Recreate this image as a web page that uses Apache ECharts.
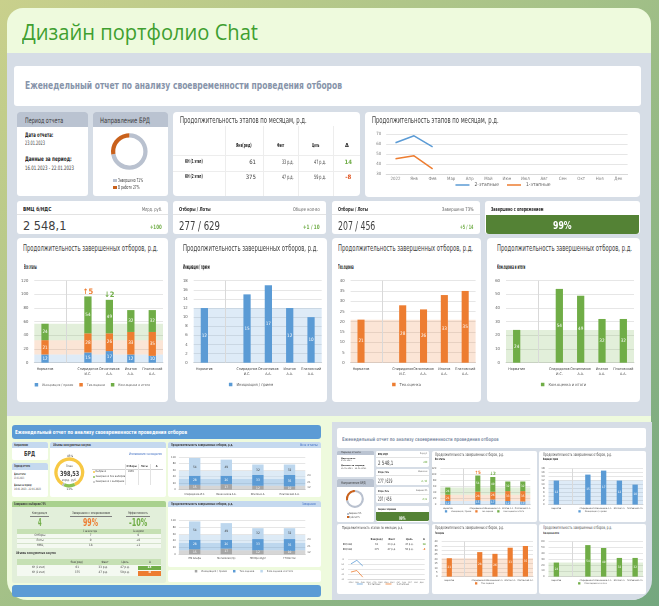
<!DOCTYPE html>
<html><head><meta charset="utf-8">
<script src="https://cdn.jsdelivr.net/npm/echarts@6.0.0/dist/echarts.min.js"></script>
<style>
html,body{margin:0;padding:0}
body{width:659px;height:606px;overflow:hidden;position:relative;background:linear-gradient(135deg,#c9d08c 0%,#a6c288 45%,#74a77f 100%);}
div{box-sizing:border-box}
</style></head><body>
<script>
// ================= DATA =================
const pageTitle = 'Дизайн портфолио Chat';
const reportTitle = 'Еженедельный отчет по анализу своевременности проведения отборов';
const chartTitle = 'Продолжительность завершенных отборов, р.д.';
const stageTitle = 'Продолжительность этапов по месяцам, р.д.';
const persons = ['Норматив', '', 'Спиридонов\nИ.С.', 'Овчинников\nА.А.', 'Ипатов\nА.А.', 'Платовский\nА.А.'];
const stageNames = ['Инициация / прием', 'Тех.оценка', 'Ком.оценка и итоги'];
const stageSubs = ['Все этапы', 'Инициация / прием', 'Тех.оценка', 'Ком.оценка и итоги'];
const initDays = [12, null, 15, 17, 12, 10];
const techDays = [21, null, 28, 26, 33, 35];
const commDays = [24, null, 54, 49, 32, 32];
const deltaNotes = [null, null, '↑5', '↓2', null, null];
const months = ['2022','Янв','Фев','Мар','Апр','Май','Июн','Июл','Авг','Сен','Окт','Ноя','Дек'];
const lineNames = ['2-этапные', '1-этапные'];
const twoStage = [61, 68, 57];
const oneStage = [45, 48, 35];
const brdNames = ['Завершено', 'В работе'];
const brdShare = [71, 27];
const tableHead = ['Янв(ред)', 'Факт', 'Цель', 'Δ'];
const tableRows = [['КН (1 этап)', '61', '33 р.д.', '47 р.д.', '14'], ['КН (2 этап)', '375', '47 р.д.', '59 р.д.', '-8']];
const kpiLabels = ['ВМЦ б/НДС', 'Отборы / Лоты', 'Отборы / Лоты', 'Завершено с опережением'];
const kpiUnits = ['Млрд. руб.', 'Общее кол-во', 'Завершено 73%', ''];
const kpiValues = ['2 548,1', '277 / 629', '207 / 456', '99%'];
const kpiDeltas = ['+100', '+1 / 10', '+5 / 14', ''];
const reportDate = '23.01.2023';
const periodText = '16.01.2023 - 22.01.2023';
// left thumbnail
const regions = ['ПМ Альфа', 'Мегаполис(пр)', 'ПМ Оренбург', 'ГП Восток'];
const volNames = ['Выбрано', 'Завершено без выборов', 'Завершено с выборами'];
const volShare = [85, 13, 2];
const volTotal = '398,53';
const effLabels = ['Конкуренция', 'Завершено с опережением', 'Эффективность'];
const effValues = ['4', '99%', '-10%'];
const yearHead = ['С начала года', 'За неделю'];
const yearRows = [['Отборы', '7', '0'], ['Лоты', '0', '+0'], ['НМЦ', '18', '+1']];

// ================= HELPERS =================
const BLUE = '#5b9bd5', ORANGE = '#ed7d31', GREEN = '#70ad47';
function avail(f){const c=document.createElement('canvas').getContext('2d');const s='Продолжительность abc 123';c.font='20px monospace';const a=c.measureText(s).width;c.font='20px "'+f+'", monospace';return Math.abs(c.measureText(s).width-a)>0.5;}
const NF = ['Liberation Sans Narrow','DejaVu Sans Condensed','Roboto Condensed','Arial Narrow'].find(avail);
const EF = NF ? '"'+NF+'", Roboto, sans-serif' : 'Roboto, sans-serif';
function el(x,y,w,h,css){const d=document.createElement('div');d.style.cssText='position:absolute;left:'+x+'px;top:'+y+'px;width:'+w+'px;height:'+h+'px;'+(css||'');document.body.appendChild(d);return d;}
function txt(x,y,s,o){o=o||{};const d=document.createElement('div');d.textContent=s;
 d.style.cssText='position:absolute;white-space:nowrap;left:0;top:0;font-family:'+(o.font||EF)+';font-size:'+(o.size||7)+'px;line-height:1.2;color:'+(o.color||'#404040')+';font-weight:'+(o.weight||400)+';';
 document.body.appendChild(d);const r=d.getBoundingClientRect();const W=r.width,H=r.height;
 const sx=o.w?o.w/W:1;const fw=W*sx;let L=x;if(o.align==='right')L=x-fw;else if(o.align==='center')L=x-fw/2;
 d.style.left=L+'px';d.style.top=(y-H/2)+'px';d.style.transformOrigin='0 50%';if(o.w)d.style.transform='scaleX('+sx+')';return d;}
function chart(x,y,w,h,opt){const d=el(x,y,w,h,'');const c=echarts.init(d);c.setOption(opt);return c;}
function sum(i){return (initDays[i]||0)+(techDays[i]||0)+(commDays[i]||0);}

function barOpt(p){
 const s=p.sz;
 const ser=p.series.map(d=>({type:'bar',name:d.name,data:d.data,stack:p.stack?'s':undefined,barWidth:p.barW||'34%',silent:true,
   itemStyle:{color:d.color},
   label:{show:true,position:'inside',color:d.lc||'#fff',fontSize:s.lab,fontFamily:EF,formatter:q=>(q.value==null?'':q.value)}}));
 ser[0].markArea={silent:true,label:p.bandLabel?{show:true,position:'right',distance:2,fontSize:s.axis,color:'#595959',fontFamily:EF}:{show:false},
   data:p.bands.map(b=>[{yAxis:b[0],name:p.bandLabel?String(b[1]-b[0]):'',itemStyle:{color:b[2]}},{yAxis:b[1]}])};
 if(p.sep!=null) ser[0].markLine={silent:true,symbol:['none','none'],label:{show:false},lineStyle:{color:'#d9d9d9',type:'solid',width:1},data:[{xAxis:p.sep}]};
 if(p.notes){const last=ser[ser.length-1];last.markPoint={silent:true,symbol:'circle',symbolSize:1,itemStyle:{color:'rgba(0,0,0,0)'},
   data:p.notes.map(n=>({coord:[n.i,n.y],label:{show:true,position:n.pos||'top',distance:0,formatter:n.t,color:n.c,fontSize:s.note,fontWeight:'bold',fontFamily:EF}}))};}
 return {animation:false,
  grid:Object.assign({containLabel:false,outerBoundsMode:'none'},p.grid),
  legend:p.legend===false?{show:false}:{bottom:p.legendBottom,left:'center',icon:'rect',itemWidth:s.icon,itemHeight:s.icon,itemGap:s.gap,selectedMode:false,textStyle:{fontSize:p.leg||s.leg,color:'#595959',fontFamily:EF,padding:[0,0,0,-1]},data:p.series.map(d=>d.name)},
  xAxis:{type:'category',data:p.cats,axisTick:{show:false},axisLine:{lineStyle:{color:'#d9d9d9'}},axisLabel:{interval:0,fontSize:s.cat,lineHeight:s.cat*1.3,color:'#404040',margin:s.catM,fontFamily:EF}},
  yAxis:{type:'value',min:0,max:p.max,interval:p.interval,axisLine:{show:false},axisTick:{show:false},axisLabel:{fontSize:s.axis,color:'#595959',margin:s.axM,fontFamily:EF},splitLine:{lineStyle:{color:'#e6e6e6',width:1}}},
  series:ser};
}
function lineOpt(grid,sz,lb){
 return {animation:false,grid:Object.assign({containLabel:false,outerBoundsMode:'none'},grid),
  legend:{bottom:lb,left:'center',icon:'rect',itemWidth:sz.lw,itemHeight:sz.lh,itemGap:sz.gap,selectedMode:false,textStyle:{fontSize:sz.leg,color:'#595959',fontFamily:EF},data:lineNames},
  xAxis:{type:'category',data:months,axisTick:{show:false},axisLine:{lineStyle:{color:'#d9d9d9'}},axisLabel:{interval:0,fontSize:sz.ax,color:'#7f7f7f',margin:sz.m,fontFamily:EF}},
  yAxis:{type:'value',min:30,max:70,interval:10,axisLine:{show:false},axisTick:{show:false},axisLabel:{fontSize:sz.ax,color:'#7f7f7f',margin:sz.m+2,fontFamily:EF},splitLine:{lineStyle:{color:'#e6e6e6'}}},
  series:[{type:'line',name:lineNames[0],data:twoStage,symbol:'none',silent:true,lineStyle:{color:BLUE,width:sz.w},itemStyle:{color:BLUE}},
          {type:'line',name:lineNames[1],data:oneStage,symbol:'none',silent:true,lineStyle:{color:ORANGE,width:sz.w},itemStyle:{color:ORANGE}}]};
}
const HDR='#bac3d1';
function periodPanel(px,py,pw,ph){const kx=pw/71,ky=ph/84.5;
 el(px,py,pw,ph,'background:#fff;border-radius:'+3*ky+'px');
 el(px,py,pw,15.2*ky,'background:'+HDR+';border-radius:'+3*ky+'px '+3*ky+'px 0 0');
 txt(px+8*kx,py+8.5*ky,'Период отчета',{size:7.5*ky,w:38.3*kx,color:'#3a3a3a'});
 txt(px+8*kx,py+23.5*ky,'Дата отчета:',{size:6.3*ky,weight:700,w:28.3*kx,color:'#262626'});
 txt(px+8*kx,py+30.8*ky,reportDate,{size:6*ky,w:20*kx});
 txt(px+8*kx,py+47.5*ky,'Данные за период:',{size:6.3*ky,weight:700,w:46.7*kx,color:'#262626'});
 txt(px+8*kx,py+56.2*ky,periodText,{size:6*ky,w:49*kx});
}
function brdPanel(px,py,pw,ph){const kx=pw/74.5,ky=ph/84.5,k=Math.min(kx,ky);const cols=['#b9c1cf','#c9611c'];
 el(px,py,pw,ph,'background:#fff;border-radius:'+3*ky+'px');
 el(px,py,pw,15.2*ky,'background:'+HDR+';border-radius:'+3*ky+'px '+3*ky+'px 0 0');
 txt(px+7*kx,py+8.5*ky,'Направление БРД',{size:7.5*ky,w:50*kx,color:'#3a3a3a'});
 chart(px,py,pw,ph,{animation:false,series:[{type:'pie',silent:true,radius:[14*k,18.3*k],center:[36.3*kx,39.5*ky],startAngle:90,label:{show:false},labelLine:{show:false},
   itemStyle:{borderWidth:0},data:brdNames.map((n,i)=>({name:n,value:brdShare[i],itemStyle:{color:cols[i]}}))}]});
 brdNames.forEach((n,i)=>{const cy=py+(69.2+6.6*i)*ky;el(px+20.3*kx,cy-1.7*k,3.4*k,3.4*k,'background:'+cols[i]);
   txt(px+24.5*kx,cy,n+' '+brdShare[i]+'%',{size:5.5*ky,w:[25,21.6][i]*kx,color:'#404040'});});
}
const kpiGeo=[{lw:28.4,uw:20,vw:43.4,dw:11.7,W:151},{lw:31.7,uw:26.7,vw:41,dw:16.7,W:153},{lw:30,uw:31.7,vw:37.3,dw:13.4,W:148},{lw:52.4,W:155}];
function kpi(px,py,pw,ph,i){const g=kpiGeo[i];const kx=pw/g.W,ky=ph/33.3;
 el(px,py,pw,ph,'background:#fff;border-radius:'+3*ky+'px');
 txt(px+6.3*kx,py+8*ky,kpiLabels[i],{size:5.5*ky,weight:700,w:g.lw*kx,color:'#262626'});
 if(i<3){
  el(px,py+13.3*ky,pw,Math.max(0.5,0.8*ky),'background:#e3e3e3');
  txt(px+pw-6.5*kx,py+8*ky,kpiUnits[i],{size:5*ky,w:g.uw*kx,align:'right',color:'#595959'});
  txt(px+6.3*kx,py+24*ky,kpiValues[i],{size:12.5*ky,weight:500,w:g.vw*kx,color:'#404040'});
  txt(px+pw-6.5*kx,py+25.5*ky,kpiDeltas[i],{size:6*ky,weight:700,w:g.dw*kx,align:'right',color:GREEN});
 } else {
  el(px+0.7*kx,py+14*ky,pw-1.4*kx,ph-14*ky-0.5,'background:#548235;border-radius:0 0 '+3*ky+'px '+3*ky+'px');
  txt(px+pw/2,py+24.7*ky,kpiValues[i],{size:10.5*ky,weight:700,w:18.7*kx,align:'center',color:'#fff'});
 }
}
const stageCols=[BLUE,ORANGE,GREEN];
const stageData=[initDays,techDays,commDays];
const bandCols=['rgba(91,155,213,0.2)','rgba(237,125,49,0.2)','rgba(112,173,71,0.2)'];
const axes=[[120,20],[18,2],[40,5],[60,10]];
function panelSeries(j){
 if(j===0) return stageNames.map((n,i)=>({name:n,data:stageData[i].map(v=>v),color:stageCols[i]}));
 return [{name:stageNames[j-1],data:stageData[j-1].map(v=>v),color:stageCols[j-1]}];
}
function panelBands(j){
 if(j===0){const a=initDays[0],b=a+techDays[0],c=b+commDays[0];return [[0,a,bandCols[0]],[a,b,bandCols[1]],[b,c,bandCols[2]]];}
 return [[0,stageData[j-1][0],bandCols[j-1]]];
}
function barPanel(px,py,pw,ph,j,g){
 el(px,py,pw,ph,'background:#fff;border-radius:'+g.r+'px');
 txt(g.tx,g.ty,chartTitle,{size:g.ts,w:g.tw,color:'#404040'});
 txt(g.sx,g.sy,stageSubs[j],{size:g.ss,weight:700,w:g.sw,color:'#262626'});
 const notes=j===0?deltaNotes.map((t,i)=>t?{i:i,y:sum(i),t:t,c:t[0]==='↑'?ORANGE:GREEN}:null).filter(Boolean):null;
 chart(px,py,pw,ph,barOpt({cats:g.cats,series:panelSeries(j),stack:j===0,max:axes[j][0],interval:axes[j][1],bands:panelBands(j),sep:1,notes:notes,
   grid:g.grid,legendBottom:g.lb,sz:g.sz,leg:j===0?g.sz.leg3:g.sz.leg}));
}

// ================= LAYOUT =================
el(7,8,644,592,'background:#eefadd;border-radius:16px 16px 20px 20px');
el(7,53,644,363,'background:#d6dde6');
txt(22,33,pageTitle,{font:'"Open Sans", "Noto Sans", sans-serif',size:21,color:'#3f9f30',w:236});
el(14,66,627,40,'background:#fff;border-radius:3px');
txt(25,86,reportTitle,{size:10,weight:700,color:'#8794aa',w:317});

// top row
periodPanel(17,111.5,71,84.5);
brdPanel(93,111.5,74.5,84.5);
// table panel
el(173,111.5,187,84.5,'background:#fff;border-radius:4px');
txt(180,120,stageTitle,{size:9,w:126.7,color:'#404040'});
[225,263.3,298.3,333.3].forEach(x=>el(x,126,0.8,69.5,'background:#ededed'));
[155,170.7].forEach(y=>el(173,y,187,0.8,'background:#ededed'));
[244.2,280.8,315.8,347].forEach((x,i)=>txt(x,145,tableHead[i],{size:5.5,weight:700,align:'center',color:'#262626',w:[15.7,7.3,7.3,null][i]}));
tableRows.forEach((r,j)=>{const y=161.7+15*j;
 txt(185,y,r[0],{size:5.5,weight:700,w:17.7,color:'#262626'});
 txt(256,y,r[1],{size:6,align:'right'});
 txt(293.3,y,r[2],{size:6,align:'right',w:11.6});
 txt(326,y,r[3],{size:6,align:'right',w:12});
 txt(348.3,y,r[4],{size:6,weight:700,align:'center',color:r[4][0]==='-'?'#e0531f':GREEN});
});
// line panel
el(364.5,111.5,275.5,85,'background:#fff;border-radius:4px');
txt(371.7,120,stageTitle,{size:9,w:126.6,color:'#404040'});
chart(364.5,111.5,275.5,85,lineOpt({left:21.2,right:13.4,top:21.8,bottom:23.2},{lw:14,lh:1.5,gap:8,leg:5,ax:4.4,m:3,w:1.5},4.5));

// KPI row
kpi(17,201,151,33.3,0);kpi(173,201,153,33.3,1);kpi(332,201,148,33.3,2);kpi(485,201,155,33.3,3);

// main bar panels
const mainSz={lab:4.6,axis:4.2,cat:3.6,leg:4,leg3:3.4,note:7.5,icon:3.5,gap:6,catM:4,axM:6};
const mainPanels=[[17,151,23.3,24,12.7,17.3,5],[175,152,182.7,183.3,26.7,18.7,5.3],[332,149,338.3,338.3,15.7,18.6,5.4],[487,153,496.7,496.7,28.3,19,6]];
mainPanels.forEach((m,j)=>barPanel(m[0],238,m[1],164,j,{r:4,tx:m[2],ty:248,ts:9,tw:135,sx:m[3],sy:267.5,ss:6.5,sw:m[4],cats:persons,
  grid:{left:m[5],right:m[6],top:42.7,bottom:39.3},lb:10.5,sz:mainSz}));

// ================= LEFT THUMBNAIL =================
el(11.7,425,309,14,'background:#5b9bd5;border-radius:3px');
txt(15,432,reportTitle,{size:5.5,weight:700,color:'#fff',w:172});
function bluePanel(x,y,w,h,hh,title,tw){el(x,y,w,h,'background:#fff;border-radius:2px;overflow:hidden');el(x,y,w,hh,'background:#c5d9ef;border-radius:2px 2px 0 0');if(title)txt(x+2.5,y+hh/2,title,{size:3.6,weight:700,color:'#404040',w:tw});}
bluePanel(11.7,441.7,36,18.3,6.6,'Направление',14);
txt(29.7,454,'БРД',{size:7,weight:700,align:'center',w:11,color:'#404040'});
bluePanel(11.7,462.7,36,34.6,7,'Период отчета',16);
txt(14,475,'Дата отчета:',{size:3,weight:700,w:12});txt(14,479,reportDate,{size:3,w:10});
txt(14,486,'Данные за период:',{size:3,weight:700,w:18});txt(14,490,periodText,{size:3,w:27});
bluePanel(50,441.7,115.7,55.6,6.6,'Объемы конкурентных закупок',38);
const volCols=['#f7c844','#8cc152','#bfbfbf'];
chart(50,448.3,115.7,49,{animation:false,series:[{type:'pie',silent:true,radius:[11.7,15],center:[19.3,24.4],startAngle:240,itemStyle:{borderWidth:0},
 label:{show:true,position:'inside',fontSize:3,color:'#404040',fontFamily:EF,formatter:q=>q.value>=10?q.value+'%':''},labelLine:{show:false},
 data:volNames.map((n,i)=>({name:n,value:volShare[i],itemStyle:{color:volCols[i]}}))}]});
txt(69.3,467,'План',{size:3,align:'center',color:'#595959'});
txt(69.3,474,volTotal,{size:7,weight:700,align:'center',w:19.3,color:'#404040'});
txt(69.3,480.3,'млрд. руб.',{size:3,align:'center',color:'#595959'});
txt(129.3,454,'Изменения за неделю',{size:3.5,w:33,color:'#4472c4'});
el(91.7,469,71.6,0.6,'background:#d0d0d0');
[125,138.3,150].forEach(x=>el(x,464,0.5,21,'background:#e3e3e3'));
['Отборы','Лоты','Δ'].forEach((h,i)=>txt([131.7,144.3,156.7][i],466.5,h,{size:2.6,weight:700,align:'center'}));
volNames.forEach((n,i)=>{const y=472+5*i;el(93,y-0.9,1.8,1.8,'background:'+volCols[i]+';border-radius:1px');txt(95.5,y,n,{size:2.6});});
txt(131,472,'2865',{size:2.6,align:'center'});
// left chart 1
bluePanel(168.3,441.7,152.4,55.6,6.6,chartTitle,62);
txt(318,445,'Все этапы',{size:3.5,w:18,align:'right',color:'#4472c4'});
const thumbCols=['#a5a5a5','#5b9bd5','#bdd7ee'];
const thumbBands=['rgba(165,165,165,0.45)','rgba(91,155,213,0.4)','rgba(189,215,238,0.5)'];
const leftSz={lab:3.2,axis:2.8,cat:2.6,leg:2.8,note:4.5,icon:2.5,gap:6,catM:2.5,axM:3};
function leftSeries(){return stageNames.map((n,i)=>({name:n,data:stageData[i].slice(2),color:thumbCols[i],lc:i===2?'#404040':'#fff'}));}
function leftBands(){const a=initDays[0],b=a+techDays[0],c=b+commDays[0];return [[0,a,thumbBands[0]],[a,b,thumbBands[1]],[b,c,thumbBands[2]]];}
function leftNotes(y){return deltaNotes.map((t,i)=>t?{i:i-2,y:y,t:t,c:t[0]==='↑'?ORANGE:GREEN,pos:'inside'}:null).filter(Boolean);}
chart(168.3,448.3,152.4,49,barOpt({cats:persons.slice(2).map(s=>s.replace('\n',' ')),series:leftSeries(),stack:true,max:100,interval:20,bands:leftBands(),bandLabel:true,
 notes:leftNotes(114),grid:{left:10.9,right:14.7,top:9,bottom:7.3},legend:false,sz:leftSz,barW:'36%'}));
// left chart 2
bluePanel(168.3,500.7,152.4,66,6.6,chartTitle,62);
txt(316,504,'Завершено',{size:3.5,w:14,align:'right',color:'#4472c4'});
el(168.3,570,152.4,11.7,'background:#fff;border-radius:2px');
chart(168.3,507.3,152.4,74.4,barOpt({cats:regions,series:leftSeries(),stack:true,max:100,interval:20,bands:leftBands(),bandLabel:true,
 notes:leftNotes(111),grid:{left:10.9,right:14.7,top:13.4,bottom:26.7},legendBottom:3.3,sz:leftSz,barW:'36%'}));
// green panel
el(11.7,500.7,154,82,'background:#e2efda;border-radius:2px');
el(11.7,500.7,154,6.6,'background:#a9d18e;border-radius:2px 2px 0 0');
txt(14,504,'Завершено с выборами 73%',{size:3.6,weight:700,w:32});
const effX=[39.3,90.7,138.3],effW=[15,38,20],effC=[GREEN,ORANGE,GREEN],effVW=[3.6,15,18.3];
effLabels.forEach((l,i)=>{txt(effX[i],513.3,l,{size:3.5,align:'center',w:effW[i]});el(effX[i]-effW[i]/2-2,516.3,effW[i]+4,0.6,'background:#7f7f7f');
 txt(effX[i],522.5,effValues[i],{size:10,weight:700,align:'center',w:effVW[i],color:effC[i]});});
el(16.7,529.3,144,4.3,'background:#c6e0b4');
el(16.7,533.6,144,14.7,'background:#f4f9f1');
yearHead.forEach((h,i)=>txt([90,138.3][i],531.5,h,{size:3,align:'center',w:[14,11][i]}));
yearRows.forEach((r,j)=>{const y=536+5*j;txt(40,y,r[0],{size:3,align:'center'});txt(90.7,y,r[1],{size:3,align:'center'});txt(138.3,y,r[2],{size:3,align:'center'});
 if(j<2)el(16.7,y+2.4,144,0.4,'background:#d5e3cc');});
txt(15.7,553.3,'Объемы конкурентных закупок',{size:3.5,weight:700,w:40});
el(16.7,559.3,144,6,'background:#c6e0b4');
el(16.7,565.3,144,10.4,'background:#f4f9f1');
[76.7,105,125,150].forEach((x,i)=>txt(x,562.3,tableHead[i],{size:3,align:'center'}));
tableRows.forEach((r,j)=>{const y=568+5.2*j;txt(38.3,y,r[0],{size:3,align:'center',w:13});txt(77.3,y,r[1],{size:3,align:'center'});
 txt(103.3,y,r[2],{size:3,align:'center'});txt(125,y,r[3],{size:3,align:'center'});
 el(138.3,y-2.4,22.4,4.8,'background:'+(r[4][0]==='-'?ORANGE:GREEN));txt(149.5,y,r[4],{size:3.2,weight:700,align:'center',color:'#fff'});});
el(11.7,585,309,11.7,'background:#5b9bd5;border-radius:3px');

// ================= RIGHT THUMBNAIL =================
el(332,422,319.5,178,'background:#d6dde6;border-bottom-right-radius:20px');
el(337.3,428.3,308.7,20,'background:#fff;border-radius:2px');
txt(341.7,439,reportTitle,{size:5,weight:700,color:'#8794aa',w:156.6});
periodPanel(337.3,450.7,36.7,26.6);
brdPanel(337.3,479,36.7,42.7);
kpi(376,450.7,53.3,16,0);kpi(376,469,53.3,16,1);kpi(376,487.3,53.3,16,2);kpi(376,505.7,53.3,16,3);
const thSz={lab:3,axis:2.8,cat:2.1,leg:2.4,leg3:2.2,note:4.5,icon:2.3,gap:4,catM:2.5,axM:4};
const thumbPanels=[[431.7,450.7,105,71,8.3,6.7],[539.3,450.7,106.7,71,9.5,3],[431.7,524,105,70.3,9.7,4],[539.3,524,106.7,70.3,9.5,3]];
thumbPanels.forEach((t,j)=>barPanel(t[0],t[1],t[2],t[3],j,{r:2,tx:t[0]+3.5,ty:t[1]+3.6,ts:4.5,tw:69,sx:t[0]+3.5,sy:t[1]+9.3,ss:3,sw:[10,15,9,16][j],
  cats:persons.map(s=>s.replace('\n',' ')),grid:{left:t[4],right:t[5],top:17.6,bottom:17.4},lb:4.5,sz:thSz}));
// table + line thumb
el(337.3,524,92,70.3,'background:#fff;border-radius:2px');
txt(341.7,528.3,stageTitle,{size:4,w:61});
const tcx=[376.7,391.7,409.3,424];
tableHead.forEach((h,i)=>txt(tcx[i],540,h,{size:2.6,weight:700,align:'center'}));
tableRows.forEach((r,j)=>{const y=545+5*j;txt(343.3,y,r[0],{size:2.6,weight:700,w:9});
 r.slice(1).forEach((v,i)=>txt(tcx[i],y,v,{size:2.6,align:'center',weight:i===3?700:400,color:i===3?(v[0]==='-'?ORANGE:GREEN):'#404040'}));});
chart(337.3,524,92,70.3,lineOpt({left:11,right:4.3,top:35.3,bottom:14.3},{lw:6,lh:0.8,gap:5,leg:2.6,ax:2.2,m:2,w:0.8},3.5));
</script>
</body></html>
